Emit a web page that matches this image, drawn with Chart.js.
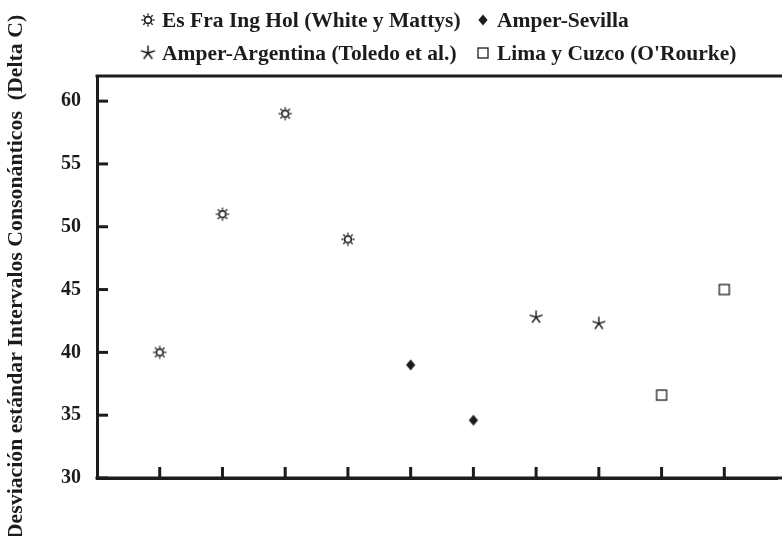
<!DOCTYPE html>
<html>
<head>
<meta charset="utf-8">
<script src="https://cdn.jsdelivr.net/npm/chart.js@4.4.1/dist/chart.umd.min.js"></script>
<style>
  html, body { margin: 0; padding: 0; background: #fff; }
  #wrap { width: 782px; height: 536px; position: relative; }
</style>
</head>
<body>
<div id="wrap"><canvas id="c" width="782" height="536"></canvas></div>
<script>
// Series labels
const seriesLabels = [
  'Es Fra Ing Hol (White y Mattys)',
  'Amper-Sevilla',
  'Amper-Argentina (Toledo et al.)',
  'Lima y Cuzco (O\'Rourke)'
];

// Category positions along the x axis and values per series
const whiteMattysX = [1, 2, 3, 4];
const whiteMattysY = [40, 51, 59, 49];
const sevillaX = [5, 6];
const sevillaY = [39, 34.6];
const argentinaX = [7, 8];
const argentinaY = [42.8, 42.3];
const limaCuzcoX = [9, 10];
const limaCuzcoY = [36.6, 45];

// Axis ticks
const xTickPositions = [1, 2, 3, 4, 5, 6, 7, 8, 9, 10];
const yTickValues = [30, 35, 40, 45, 50, 55, 60];

const yTitle = 'Desviación estándar Intervalos Consonánticos  (Delta C)';

const INK = '#1c1c1c';
const SERIF = '"Liberation Serif", "Times New Roman", serif';

function pts(xs, ys) { return xs.map((x, i) => ({ x: x, y: ys[i] })); }

// Marker glyphs drawn onto small canvases
function makeCanvas(size, draw) {
  const cv = document.createElement('canvas');
  cv.width = size; cv.height = size;
  const ctx = cv.getContext('2d');
  ctx.strokeStyle = INK; ctx.fillStyle = INK;
  draw(ctx, size / 2);
  return cv;
}

const sunMarker = makeCanvas(16, (ctx, c) => {
  ctx.lineWidth = 1.7;
  ctx.beginPath(); ctx.arc(c, c, 3.4, 0, Math.PI * 2); ctx.stroke();
  ctx.lineWidth = 1.4;
  for (let k = 0; k < 8; k++) {
    const a = k * Math.PI / 4;
    ctx.beginPath();
    ctx.moveTo(c + Math.cos(a) * 4.5, c + Math.sin(a) * 4.5);
    ctx.lineTo(c + Math.cos(a) * 6.6, c + Math.sin(a) * 6.6);
    ctx.stroke();
  }
});

const diamondMarker = makeCanvas(14, (ctx, c) => {
  ctx.beginPath();
  ctx.moveTo(c, c - 5.5); ctx.lineTo(c + 4.6, c);
  ctx.lineTo(c, c + 5.5); ctx.lineTo(c - 4.6, c);
  ctx.closePath(); ctx.fill();
});

const asteriskMarker = makeCanvas(16, (ctx, c) => {
  ctx.lineWidth = 1.4;
  ctx.lineCap = 'round';
  for (let k = 0; k < 5; k++) {
    const a = -Math.PI / 2 + k * 2 * Math.PI / 5;
    ctx.beginPath();
    ctx.moveTo(c, c);
    ctx.lineTo(c + Math.cos(a) * 6.2, c + Math.sin(a) * 6.2);
    ctx.stroke();
  }
});

const squareMarker = makeCanvas(14, (ctx, c) => {
  ctx.fillStyle = '#fff';
  ctx.fillRect(c - 5, c - 5, 10, 10);
  ctx.lineWidth = 1.3;
  ctx.strokeRect(c - 5, c - 5, 10, 10);
});

const markers = [sunMarker, diamondMarker, asteriskMarker, squareMarker];

// Frame (top edge and full-width base line), inward tick marks and the two-column legend
const decorations = {
  id: 'decorations',
  afterDraw(chart) {
    const ctx = chart.ctx;
    const area = chart.chartArea;
    const xs = chart.scales.x, ys = chart.scales.y;
    ctx.save();
    ctx.strokeStyle = INK;
    ctx.lineWidth = 3;
    ctx.lineCap = 'butt';
    ctx.beginPath();
    ctx.moveTo(area.left - 1.5, area.top);
    ctx.lineTo(chart.width, area.top);
    ctx.moveTo(area.left - 1.5, area.bottom);
    ctx.lineTo(chart.width, area.bottom);
    ctx.stroke();

    yTickValues.forEach(v => {
      const py = ys.getPixelForValue(v);
      ctx.beginPath();
      ctx.moveTo(area.left, py);
      ctx.lineTo(area.left + 11, py);
      ctx.stroke();
    });
    xTickPositions.forEach(v => {
      const px = xs.getPixelForValue(v);
      ctx.beginPath();
      ctx.moveTo(px, area.bottom);
      ctx.lineTo(px, area.bottom - 11);
      ctx.stroke();
    });

    // Legend
    const order = [0, 1, 2, 3];
    const colX = [148, 483];
    const rowY = [20, 53];
    ctx.font = 'bold 21.5px ' + SERIF;
    ctx.fillStyle = INK;
    ctx.textBaseline = 'middle';
    ctx.textAlign = 'left';
    const sizes = [12, 10, 13, 10];
    order.forEach((di, k) => {
      const ds = chart.data.datasets[di];
      const cx = colX[k % 2], cy = rowY[Math.floor(k / 2)];
      const m = markers[di];
      const s = sizes[di] / (m.width - 4) * m.width;
      ctx.drawImage(m, cx - s / 2, cy - s / 2, s, s);
      ctx.fillText(ds.label, cx + 14, cy + 1);
    });
    ctx.restore();
  }
};

new Chart(document.getElementById('c'), {
  type: 'scatter',
  data: {
    datasets: [
      { label: seriesLabels[0], data: pts(whiteMattysX, whiteMattysY), pointStyle: sunMarker },
      { label: seriesLabels[1], data: pts(sevillaX, sevillaY), pointStyle: diamondMarker },
      { label: seriesLabels[2], data: pts(argentinaX, argentinaY), pointStyle: asteriskMarker },
      { label: seriesLabels[3], data: pts(limaCuzcoX, limaCuzcoY), pointStyle: squareMarker }
    ]
  },
  options: {
    responsive: false,
    devicePixelRatio: 1,
    animation: false,
    layout: { padding: { left: 0, right: 0, top: 76, bottom: 58 } },
    plugins: {
      legend: { display: false },
      tooltip: { enabled: false }
    },
    scales: {
      x: {
        type: 'linear',
        min: 0,
        max: 10.84,
        grid: { display: false, drawTicks: false },
        ticks: { display: false },
        border: { display: true, color: INK, width: 3 }
      },
      y: {
        min: 30,
        max: 62,
        afterBuildTicks(scale) { scale.ticks = yTickValues.map(v => ({ value: v })); },
        afterFit(scale) { scale.width = 97; },
        grid: { display: false, drawTicks: false },
        border: { display: true, color: INK, width: 3 },
        ticks: {
          color: INK,
          padding: 16,
          font: { family: SERIF, size: 20, weight: 'bold' }
        },
        title: {
          display: true,
          text: yTitle,
          color: INK,
          padding: { top: 3, bottom: 0 },
          font: { family: SERIF, size: 21.8, weight: 'bold' }
        }
      }
    }
  },
  plugins: [decorations]
});
</script>
</body>
</html>
